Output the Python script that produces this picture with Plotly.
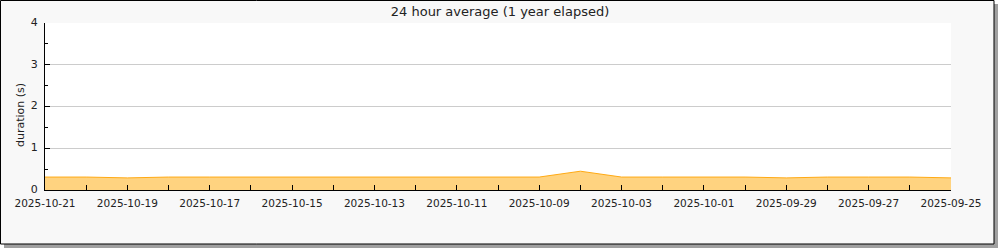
import plotly.graph_objects as go

dates = ["2025-10-21", "2025-10-20", "2025-10-19", "2025-10-18", "2025-10-17", "2025-10-16",
         "2025-10-15", "2025-10-14", "2025-10-13", "2025-10-12", "2025-10-11", "2025-10-10",
         "2025-10-09", "2025-10-08", "2025-10-03", "2025-10-02", "2025-10-01", "2025-09-30",
         "2025-09-29", "2025-09-28", "2025-09-27", "2025-09-26", "2025-09-25"]
durations = [0.31, 0.31, 0.29, 0.31, 0.31, 0.31, 0.31, 0.31, 0.31, 0.31, 0.31, 0.31,
             0.31, 0.45, 0.31, 0.31, 0.31, 0.31, 0.29, 0.31, 0.31, 0.31, 0.29]
tick_labels = [d if i % 2 == 0 else "" for i, d in enumerate(dates)]

W, H = 1000, 250
L, R, T, B = 45, 951, 23, 190  # plot area in px


def fx(px):
    return (px - L) / (R - L)


def fy(py):
    return (B - py) / (B - T)


font = "DejaVu Sans, sans-serif"

fig = go.Figure()
fig.add_trace(go.Scatter(
    x=dates, y=durations, mode="lines", fill="tozeroy",
    line=dict(color="rgb(255,170,20)", width=1),
    fillcolor="rgb(255,211,128)", hoverinfo="x+y", showlegend=False,
))

fig.update_layout(
    width=W, height=H,
    margin=dict(l=L, r=W - R, t=T, b=H - B),
    paper_bgcolor="white",
    plot_bgcolor="white",
    font=dict(family=font, size=11, color="#222"),
    title=dict(text="24 hour average (1 year elapsed)", x=0.5, xref="container",
               y=1 - 11 / H, yanchor="middle", xanchor="center",
               font=dict(family=font, size=13, color="#222")),
    xaxis=dict(
        type="category", range=[0, 22],
        tickvals=dates, ticktext=tick_labels,
        ticks="inside", ticklen=5, tickcolor="black", tickwidth=1,
        showline=True, linecolor="black", linewidth=1,
        showgrid=False, zeroline=False, tickangle=0,
        ticklabelstandoff=3,
        tickfont=dict(family=font, size=10.5, color="#222"),
    ),
    yaxis=dict(
        range=[0, 4], tickvals=[0, 1, 2, 3, 4],
        ticks="inside", ticklen=5, tickcolor="black", tickwidth=1,
        showline=True, linecolor="black", linewidth=1,
        showgrid=True, gridcolor="#cccccc", gridwidth=1, zeroline=False,
        ticklabelstandoff=4, ticklabelshift=-1,
        tickfont=dict(family=font, size=11, color="#222"),
        minor=dict(ticks="inside", ticklen=3, tickcolor="black", dtick=0.5, showgrid=False),
    ),
    shapes=[
        dict(type="rect", xref="paper", yref="paper", layer="below",
             x0=fx(4), x1=fx(998), y0=fy(4), y1=fy(248),
             fillcolor="#a0a0a0", line=dict(width=0)),
        dict(type="rect", xref="paper", yref="paper", layer="below",
             x0=fx(0.5), x1=fx(994), y0=fy(0.5), y1=fy(244),
             fillcolor="#f8f8f8", line=dict(color="black", width=1)),
        dict(type="rect", xref="paper", yref="paper", layer="below",
             x0=0, x1=1, y0=0, y1=1,
             fillcolor="white", line=dict(width=0)),
    ],
    annotations=[
        dict(text="duration (s)", xref="paper", yref="paper", x=fx(20), y=fy(115),
             textangle=-90, showarrow=False, xanchor="center", yanchor="middle",
             font=dict(family=font, size=11, color="#222")),
    ],
)

fig.write_html("out.html")
